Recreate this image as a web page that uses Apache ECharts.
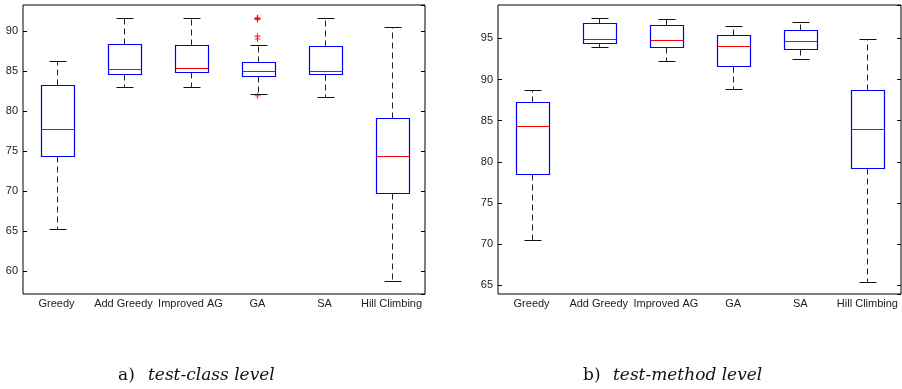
<!DOCTYPE html>
<html>
<head>
<meta charset="utf-8">
<script src="https://cdn.jsdelivr.net/npm/echarts@6/dist/echarts.min.js"></script>
<style>
html,body{margin:0;padding:0;background:#fff;}
#chart{width:902px;height:389px;}
</style>
</head>
<body>
<div id="chart"></div>
<script>
// ---- data ----
var categories = ['Greedy', 'Add Greedy', 'Improved AG', 'GA', 'SA', 'Hill Climbing'];
// each row: [min whisker, Q1, median, Q3, max whisker]
var classLevelBoxes = [
  [65.2, 74.3, 77.8, 83.2, 86.25],
  [83.05, 84.6, 85.2, 88.4, 91.65],
  [83.05, 84.85, 85.35, 88.3, 91.65],
  [82.1, 84.4, 85.05, 86.1, 88.3],
  [81.7, 84.6, 85.05, 88.1, 91.65],
  [58.75, 69.75, 74.4, 79.1, 90.55]
];
// outliers: [category index, value]
var classLevelOutliers = [[3, 91.65], [3, 91.55], [3, 91.45], [3, 89.35], [3, 89.0], [3, 81.9]];
var methodLevelBoxes = [
  [70.5, 78.55, 84.3, 87.25, 88.7],
  [93.98, 94.47, 94.9, 96.9, 97.5],
  [92.2, 93.9, 94.75, 96.6, 97.38],
  [88.8, 91.6, 94.07, 95.4, 96.45],
  [92.5, 93.75, 94.64, 96.0, 96.94],
  [65.45, 79.2, 83.93, 88.7, 94.95]
];
var methodLevelOutliers = [];
var captions = [['a)', 'test-class level'], ['b)', 'test-method level']];

// ---- chart ----
var chart = echarts.init(document.getElementById('chart'), null, {renderer: 'canvas'});
var labelFont = "'Liberation Sans', Arial, Helvetica, sans-serif";

function toRows(boxes) {
  return boxes.map(function (b, i) { return [i].concat(b); });
}

function px(v) { return Math.round(v) + 0.5; }

function renderBox(params, api) {
  var x = api.value(0);
  var lo = api.coord([x, api.value(1)]);
  var q1 = api.coord([x, api.value(2)]);
  var med = api.coord([x, api.value(3)]);
  var q3 = api.coord([x, api.value(4)]);
  var hi = api.coord([x, api.value(5)]);
  var band = api.size([1, 0])[0];
  var bw = band * 0.5, cw = band * 0.25;
  var cx = px(lo[0]);
  var yLo = px(lo[1]), yQ1 = px(q1[1]), yMed = px(med[1]), yQ3 = px(q3[1]), yHi = px(hi[1]);
  var xl = px(cx - bw / 2), xr = px(cx + bw / 2);
  var dash = {stroke: '#222', lineWidth: 1, lineDash: [6, 4]};
  var solid = {stroke: '#111', lineWidth: 1};
  return {
    type: 'group',
    children: [
      {type: 'line', shape: {x1: cx, y1: yQ3, x2: cx, y2: yHi}, style: dash},
      {type: 'line', shape: {x1: cx, y1: yQ1, x2: cx, y2: yLo}, style: dash},
      {type: 'line', shape: {x1: px(cx - cw / 2), y1: yHi, x2: px(cx + cw / 2), y2: yHi}, style: solid},
      {type: 'line', shape: {x1: px(cx - cw / 2), y1: yLo, x2: px(cx + cw / 2), y2: yLo}, style: solid},
      {type: 'rect', shape: {x: xl, y: yQ3, width: xr - xl, height: yQ1 - yQ3}, style: {fill: 'none', stroke: '#0000ff', lineWidth: 1.2}},
      {type: 'line', shape: {x1: xl, y1: yMed, x2: xr, y2: yMed}, style: {stroke: '#ff0000', lineWidth: 1}}
    ]
  };
}

var plusPath = 'path://M4,0H6V4H10V6H6V10H4V6H0V4H4Z';

function makeAxes(gridIndex, min, max) {
  var base = {
    type: 'value', gridIndex: gridIndex, min: min, max: max, splitNumber: 7,
    splitLine: {show: false},
    axisLine: {show: false},
    axisTick: {show: true, inside: true, length: 4, lineStyle: {color: '#000'}}
  };
  var left = Object.assign({}, base, {
    position: 'left',
    axisLabel: {show: true, margin: 5, fontSize: 11, color: '#222', fontFamily: labelFont,
      showMinLabel: false, showMaxLabel: false}
  });
  var right = Object.assign({}, base, {
    position: 'right',
    axisLabel: {show: false}
  });
  return [left, right];
}

var yAxes = makeAxes(0, 57.1, 93.25).concat(makeAxes(1, 63.95, 99.05));

function xAxis(gridIndex) {
  return {
    type: 'category', gridIndex: gridIndex, data: categories,
    axisLine: {show: false}, axisTick: {show: false}, splitLine: {show: false},
    axisLabel: {interval: 0, margin: 4, fontSize: 11, color: '#222', fontFamily: labelFont}
  };
}

function captionTitle(c, left) {
  return {
    text: '{n|' + c[0] + '}{i|' + c[1] + '}',
    left: left, top: 366, padding: 0,
    textStyle: {
      fontWeight: 'normal',
      rich: {
        n: {fontFamily: "'DejaVu Serif', serif", fontWeight: 'normal', fontSize: 17, color: '#111', width: 30, lineHeight: 20},
        i: {fontFamily: "'DejaVu Serif', serif", fontWeight: 'normal', fontStyle: 'italic', fontSize: 17, color: '#111', lineHeight: 20}
      }
    }
  };
}

var option = {
  animation: false,
  backgroundColor: '#fff',
  title: [captionTitle(captions[0], 118), captionTitle(captions[1], 583)],
  grid: [
    {left: 23, top: 5, width: 402, height: 289, show: true, borderColor: '#000', borderWidth: 1, backgroundColor: 'transparent'},
    {left: 498, top: 5, width: 403, height: 289, show: true, borderColor: '#000', borderWidth: 1, backgroundColor: 'transparent'}
  ],
  xAxis: [xAxis(0), xAxis(1)],
  yAxis: yAxes,
  series: [
    {type: 'custom', xAxisIndex: 0, yAxisIndex: 0, renderItem: renderBox,
      encode: {x: 0, y: [1, 2, 3, 4, 5]}, data: toRows(classLevelBoxes)},
    {type: 'scatter', xAxisIndex: 0, yAxisIndex: 0, symbol: plusPath, symbolSize: 6,
      itemStyle: {color: '#ff0000'}, data: classLevelOutliers},
    {type: 'custom', xAxisIndex: 1, yAxisIndex: 2, renderItem: renderBox,
      encode: {x: 0, y: [1, 2, 3, 4, 5]}, data: toRows(methodLevelBoxes)},
    {type: 'scatter', xAxisIndex: 1, yAxisIndex: 2, symbol: plusPath, symbolSize: 6,
      itemStyle: {color: '#ff0000'}, data: methodLevelOutliers}
  ]
};
chart.setOption(option);
</script>
</body>
</html>
